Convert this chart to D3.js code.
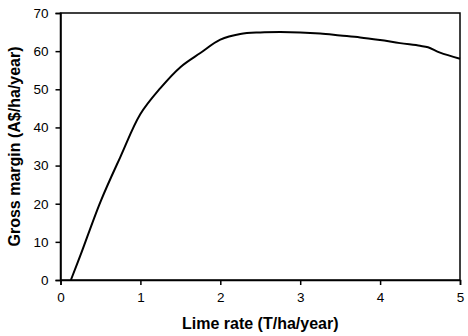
<!DOCTYPE html>
<html>
<head>
<meta charset="utf-8">
<script src="https://cdn.jsdelivr.net/npm/d3@7"></script>
<style>
  html, body { margin: 0; padding: 0; background: #fff; }
  svg { display: block; font-family: "Liberation Sans", Arial, sans-serif; }
</style>
</head>
<body>
<svg id="chart" width="468" height="336"></svg>
<script>
// Lime rate (T/ha/year) and the resulting gross margin (A$/ha/year)
const limeRate = [0.13, 0.25, 0.5, 0.75, 1.0, 1.25, 1.5, 1.75, 2.0, 2.25, 2.5, 2.75, 3.0, 3.25, 3.5, 3.75, 4.0, 4.25, 4.5, 4.6, 4.75, 5.0];
const grossMargin = [0, 6.5, 20.5, 32.3, 43.5, 50.3, 55.8, 59.5, 63, 64.5, 64.9, 65, 64.9, 64.6, 64.1, 63.6, 62.9, 62.1, 61.4, 61.0, 59.6, 58];
const xTicks = [0, 1, 2, 3, 4, 5];
const yTicks = [0, 10, 20, 30, 40, 50, 60, 70];

const svg = d3.select("#chart");
const margin = { left: 60.5, right: 8, top: 13, bottom: 56 };
const W = 468, H = 336;

const x = d3.scaleLinear().domain([0, 5]).range([margin.left, W - margin.right]);
const y = d3.scaleLinear().domain([0, 70]).range([H - margin.bottom, margin.top]);

// plot frame
svg.append("rect")
  .attr("x", x(0)).attr("y", y(70))
  .attr("width", x(5) - x(0)).attr("height", y(0) - y(70))
  .attr("fill", "none").attr("stroke", "#000").attr("stroke-width", 1.5);

const xAxis = svg.append("g")
  .attr("transform", `translate(0,${y(0)})`)
  .call(d3.axisBottom(x).tickValues(xTicks).tickSize(5).tickPadding(7).tickFormat(d3.format("d")));
const yAxis = svg.append("g")
  .attr("transform", `translate(${x(0)},0)`)
  .call(d3.axisLeft(y).tickValues(yTicks).tickSize(5).tickPadding(7).tickFormat(d3.format("d")));

[xAxis, yAxis].forEach(g => {
  g.select(".domain").attr("stroke", "#000").attr("stroke-width", 1.5);
  g.selectAll(".tick line").attr("stroke", "#000").attr("stroke-width", 1.5);
  g.selectAll(".tick text").attr("fill", "#000").style("font-size", "13.5px")
    .style("font-family", "'Liberation Sans', Arial, sans-serif");
});

// response curve (smoothed through the sampled rates)
const pts = limeRate.map((v, i) => [v, grossMargin[i]]);
svg.append("path")
  .datum(pts)
  .attr("fill", "none")
  .attr("stroke", "#000")
  .attr("stroke-width", 2)
  .attr("stroke-linejoin", "round")
  .attr("d", d3.line().x(d => x(d[0])).y(d => y(d[1])).curve(d3.curveCatmullRom.alpha(0.5)));

// axis titles
svg.append("text")
  .attr("x", (x(0) + x(5)) / 2).attr("y", 328.5)
  .attr("text-anchor", "middle")
  .style("font-size", "16px").style("font-weight", "bold")
  .text("Lime rate (T/ha/year)");

svg.append("text")
  .attr("transform", `translate(20,${(y(0) + y(70)) / 2}) rotate(-90)`)
  .attr("text-anchor", "middle")
  .style("font-size", "16px").style("font-weight", "bold")
  .text("Gross margin (A$/ha/year)");
</script>
</body>
</html>
